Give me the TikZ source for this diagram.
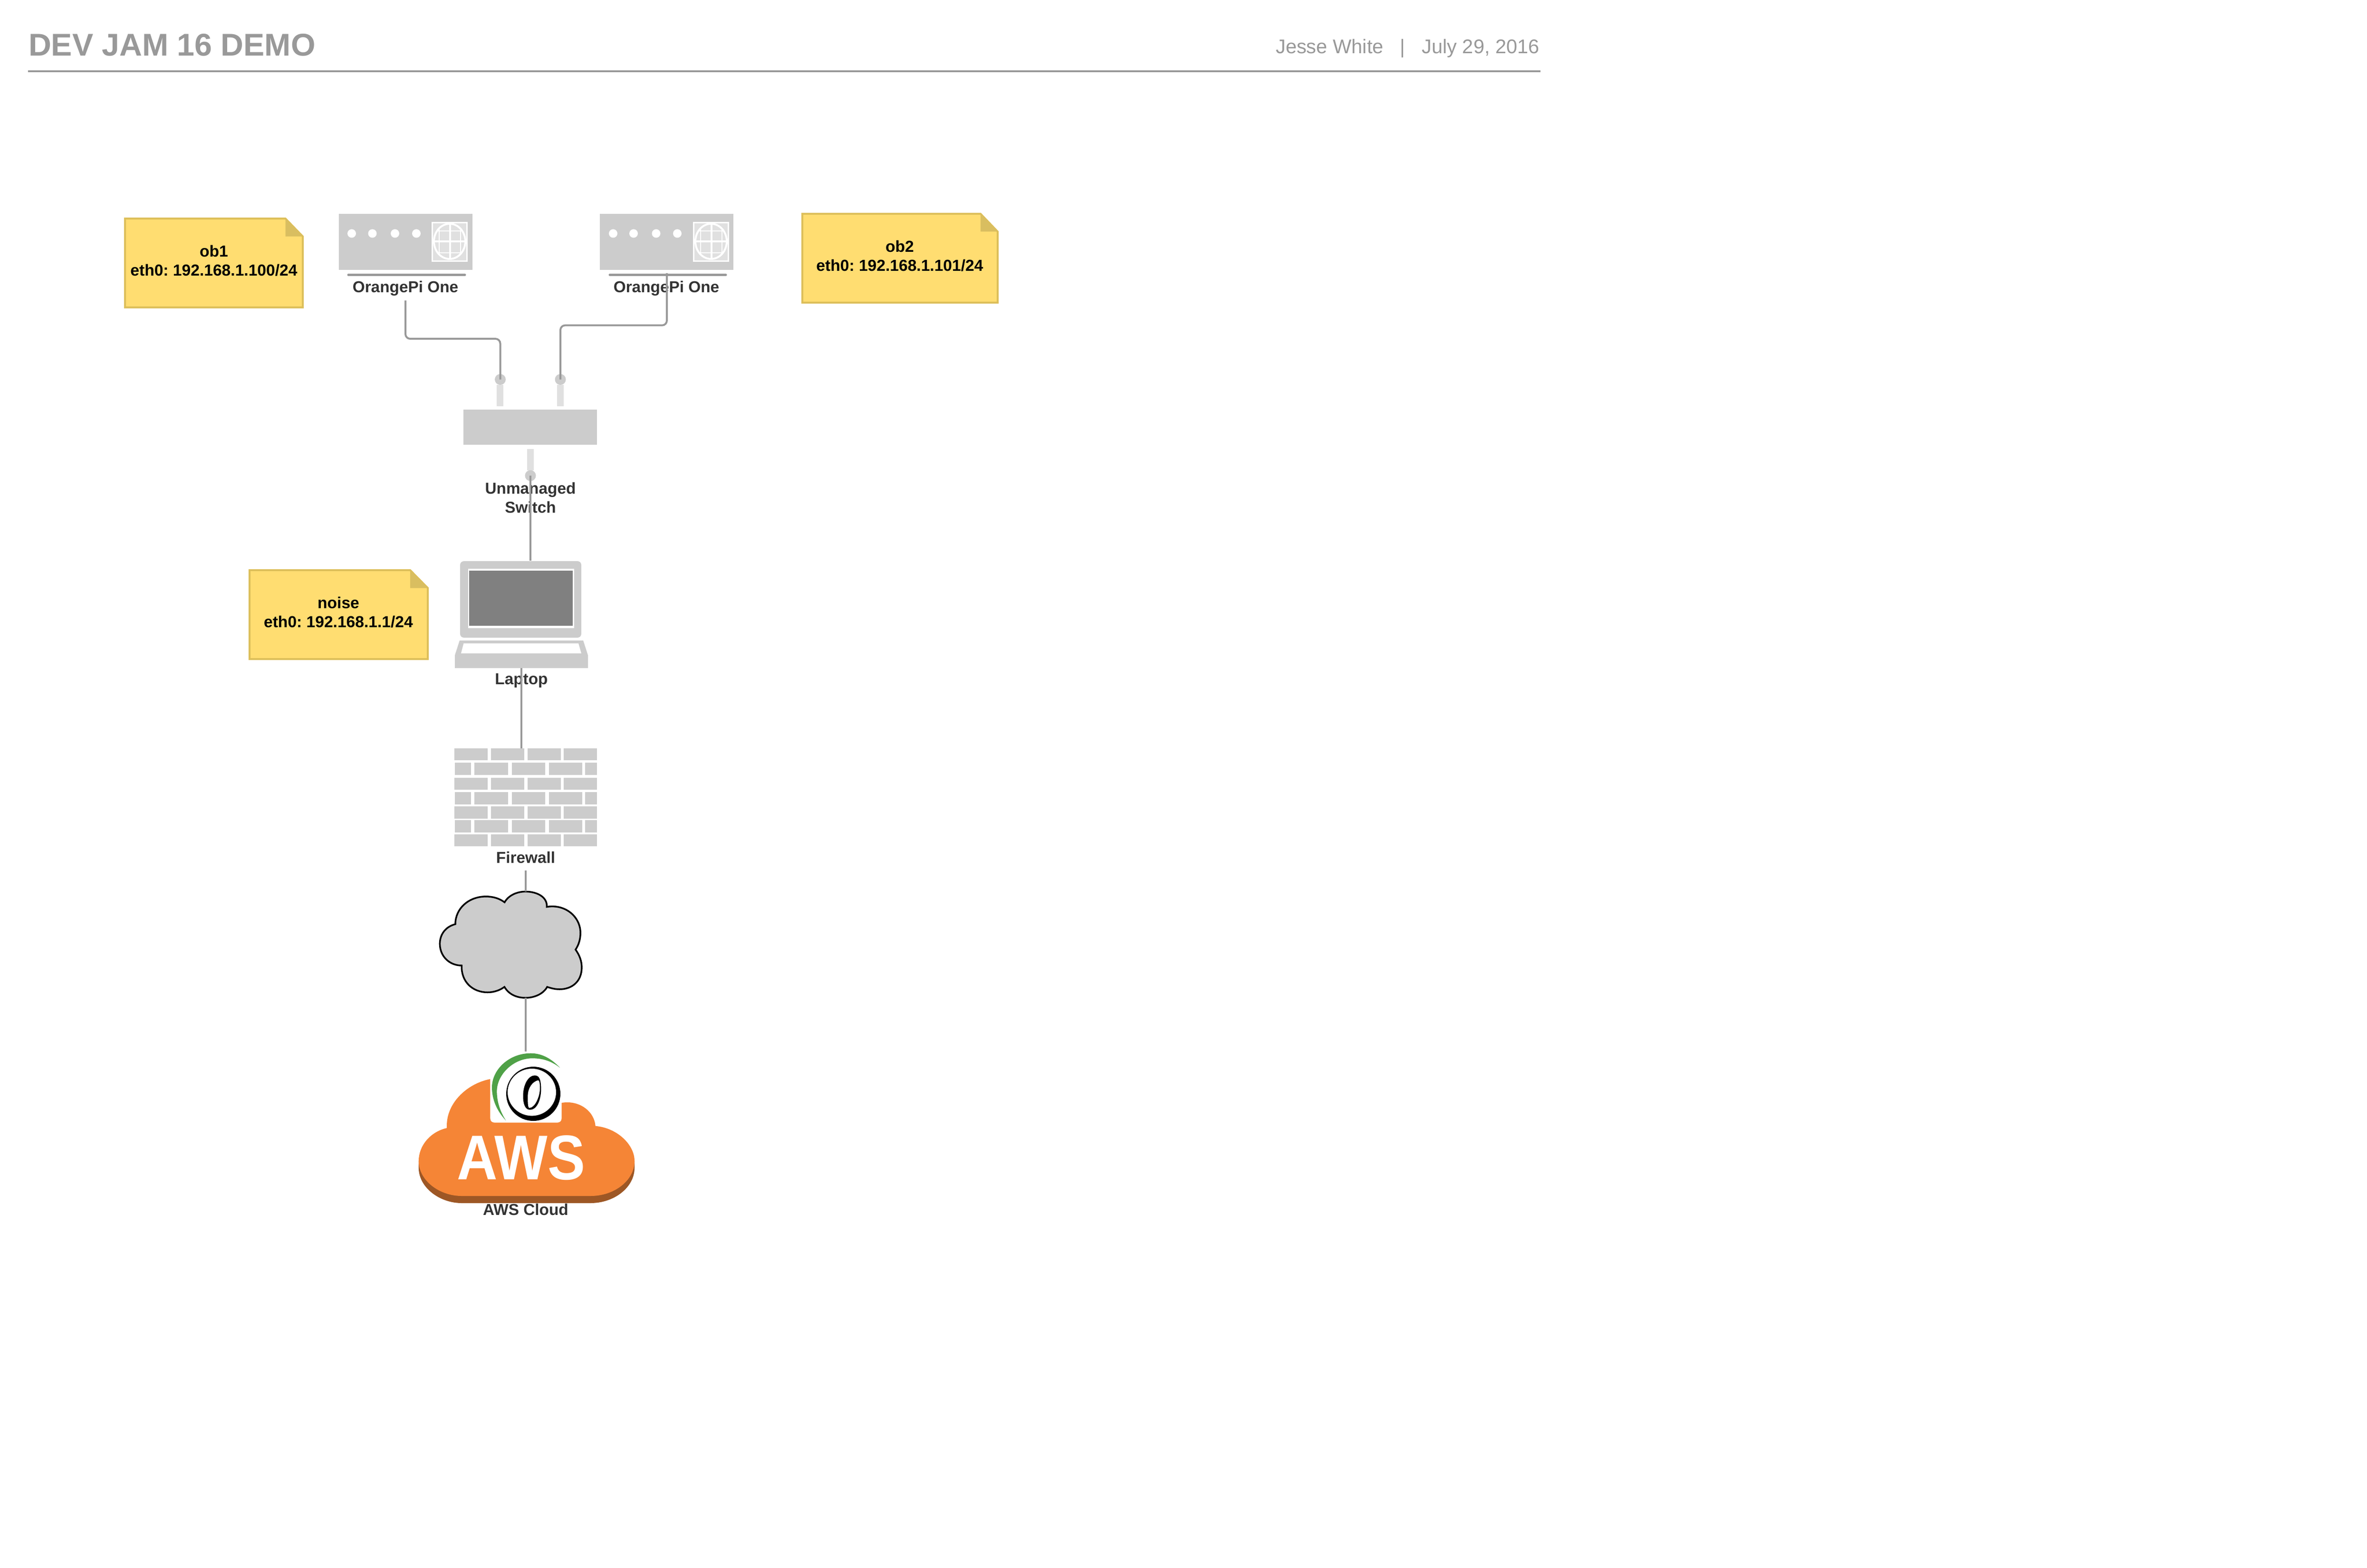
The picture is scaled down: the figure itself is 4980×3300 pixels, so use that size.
\documentclass[tikz,border=0pt]{standalone}
\usepackage{fontspec}
\setmainfont{Liberation Sans}
\newfontfamily\awsfont[FakeStretch=0.89]{Liberation Sans Bold}
\definecolor{wire}{HTML}{999999}
\definecolor{gear}{HTML}{CCCCCC}
\definecolor{stub}{HTML}{E0E0E0}
\definecolor{labeltext}{HTML}{333333}
\definecolor{notefill}{HTML}{FFDD71}
\definecolor{noteedge}{HTML}{DDBF5A}
\definecolor{notefold}{HTML}{D9BE60}
\definecolor{awsorange}{HTML}{F58536}
\definecolor{awsbrown}{HTML}{9D5725}
\definecolor{logogreen}{HTML}{4FA147}
\tikzset{
  wireline/.style={draw=wire,line width=0.8pt,rounded corners=2pt},
  gearbox/.style={rectangle,fill=gear,inner sep=0pt,outer sep=0pt},
  devlabel/.style={font=\bfseries\fontsize{6.67}{8}\selectfont,text=labeltext,anchor=base,inner sep=0pt,align=center},
  notetext/.style={font=\bfseries\fontsize{6.72}{8.2}\selectfont,text=black,anchor=base,inner sep=0pt},
  noteshape/.style={fill=notefill,draw=noteedge,line width=0.8pt,line join=miter},
  foldshape/.style={fill=notefold},
  portstub/.style={fill=stub},
  portdot/.style={fill=gear},
  brick/.style={fill=gear},
  globeline/.style={draw=white,line width=0.4pt},
  globeheavy/.style={draw=white,line width=0.8pt},
}
\newcommand{\piglobe}[2]{%
  \fill[white] (#1,#2) rectangle ++(76,84);
  \fill[stub] (#1+3,#2+3) rectangle ++(70,78);
  \begin{scope}
    \clip (#1+38,#2+41) ellipse [x radius=33,y radius=37];
    \draw[globeline] (#1+15.7,#2) -- ++(0,84) (#1+61,#2) -- ++(0,84)
      (#1,#2+19) -- ++(76,0) (#1,#2+64.7) -- ++(76,0);
    \draw[globeheavy] (#1+38.7,#2) -- ++(0,84) (#1,#2+40.7) -- ++(76,0);
  \end{scope}
  \draw[globeheavy] (#1+38,#2+41) ellipse [x radius=33,y radius=37];}
\newcommand{\pidots}[4]{%
  \foreach \dx in {#1,#2,#3,#4} \fill[white] (\dx,491.4) circle [radius=9];}
\newcommand{\brickrow}[3]{%
  \foreach \a/\b in {#3} \fill[brick] (\a,#1) rectangle (\b,#2);}
\begin{document}
\frenchspacing
\begin{tikzpicture}[x=0.2pt,y=-0.2pt]
\useasboundingbox (0,0) rectangle (4980,3300);

% header
\node[anchor=base west,inner sep=0pt,text=wire,font=\bfseries\fontsize{13.25}{16}\selectfont] (title) at (59,118) {DEV JAM 16 DEMO};
\node[anchor=base east,inner sep=0pt,text=wire,font=\fontsize{8.33}{10}\selectfont] (byline) at (3240,113) {Jesse White\ \ \ |\ \ \ July 29, 2016};
\fill[wire] (59,148) rectangle (3241,152);

% notes
\draw[noteshape] (263,460) -- (600.5,460) -- (637,497.6) -- (637,647) -- (263,647) -- cycle;
\fill[foldshape] (600.5,460) -- (600.5,497.6) -- (637,497.6) -- cycle;
\node[notetext] (ob1name) at (450,540.5) {ob1};
\node[notetext] (ob1ip) at (450,581) {eth0: 192.168.1.100/24};

\draw[noteshape] (1688,450) -- (2063,450) -- (2099,487.5) -- (2099,637) -- (1688,637) -- cycle;
\fill[foldshape] (2063,450) -- (2063,487.5) -- (2099,487.5) -- cycle;
\node[notetext] (ob2name) at (1893,530.5) {ob2};
\node[notetext] (ob2ip) at (1893,571) {eth0: 192.168.1.101/24};

\draw[noteshape] (525,1200) -- (863,1200) -- (900,1237.5) -- (900,1387) -- (525,1387) -- cycle;
\fill[foldshape] (863,1200) -- (863,1237.5) -- (900,1237.5) -- cycle;
\node[notetext] (noisename) at (712,1280) {noise};
\node[notetext] (noiseip) at (712,1320.5) {eth0: 192.168.1.1/24};

% OrangePi One (left)
\node[gearbox,minimum width=56.2pt,minimum height=23.6pt] (pia) at (853.5,509) {};
\pidots{740}{783.5}{831}{876}
\piglobe{908}{467}
\draw[wire,line width=1pt,line cap=round] (733,578.5) -- (978,578.5);
\node[devlabel] (pialabel) at (853,616) {OrangePi One};

% OrangePi One (right)
\node[gearbox,minimum width=56.2pt,minimum height=23.6pt] (pib) at (1402.5,509) {};
\pidots{1290}{1333}{1380.5}{1425}
\piglobe{1458}{467}
\draw[wire,line width=1pt,line cap=round] (1283,578.5) -- (1527,578.5);
\node[devlabel] (piblabel) at (1402,616) {OrangePi One};

% switch
\node[gearbox,minimum width=56.2pt,minimum height=14.8pt] (switch) at (1115.5,899) {};
\fill[portstub] (1045,810) rectangle (1059,855);
\fill[portstub] (1172,810) rectangle (1186,855);
\fill[portstub] (1109,945) rectangle (1123,990);
\node[devlabel] (switchlabel) at (1116,1039.5) {Unmanaged};
\node[devlabel] (switchlabelb) at (1116,1079.5) {Switch};
\coordinate (porta) at (1052.5,798.6);
\coordinate (portb) at (1179,798.6);
\coordinate (portc) at (1116,1001);
\fill[portdot] (porta) circle [radius=11.5];
\fill[portdot] (portb) circle [radius=11.5];
\fill[portdot] (portc) circle [radius=11.5];

% laptop
\fill[gear,rounded corners=1.6pt] (968,1181) rectangle (1223,1342);
\fill[white] (985,1197) rectangle (1208,1322);
\fill[black!50] (987,1201) rectangle (1205,1317);
\fill[gear] (967,1348) -- (1227,1348) -- (1237,1379) -- (1237,1406) -- (957,1406) -- (957,1379) -- cycle;
\fill[white] (975.5,1354) -- (1217,1354) -- (1223,1375) -- (970,1375) -- cycle;
\node[devlabel] (laptoplabel) at (1097,1440) {Laptop};

% firewall
\brickrow{1575}{1600}{956/1026.4,1032.5/1102.6,1109.5/1179.5,1186/1256}
\brickrow{1604.7}{1631}{957/991,998/1068.5,1076.6/1146.6,1155/1225.4,1231/1255.7}
\brickrow{1636.5}{1661.7}{956/1026.4,1032.5/1102.6,1109.5/1179.5,1186/1256}
\brickrow{1666.7}{1692.7}{957/991,998/1068.5,1076.6/1146.6,1155/1225.4,1231/1255.7}
\brickrow{1697.3}{1722.6}{956/1026.4,1032.5/1102.6,1109.5/1179.5,1186/1256}
\brickrow{1725.7}{1751.7}{957/991,998/1068.5,1076.6/1146.6,1155/1225.4,1231/1255.7}
\brickrow{1756}{1781}{956/1026.4,1032.5/1102.6,1109.5/1179.5,1186/1256}
\node[devlabel] (firewalllabel) at (1106,1816) {Firewall};

% internet cloud
\draw[fill=gear,draw=black,line width=0.7pt,line join=miter]
  (1061.6,1899) .. controls (1070,1884) and (1088,1876.4) .. (1105.6,1876.4)
  .. controls (1130,1876.4) and (1152,1888) .. (1150.4,1908.6)
  .. controls (1190,1902) and (1221.2,1930) .. (1221.2,1963.3)
  .. controls (1221.2,1976) and (1218,1988) .. (1210.9,1998.5)
  .. controls (1219,2010) and (1223.9,2022) .. (1223.9,2036)
  .. controls (1223.9,2066) and (1203,2082) .. (1177.2,2082)
  .. controls (1168,2082) and (1160,2080) .. (1151.2,2077)
  .. controls (1143,2092) and (1124,2100) .. (1105.6,2100)
  .. controls (1086,2100) and (1070,2092) .. (1061.3,2077)
  .. controls (1052,2084) and (1039,2088.5) .. (1026,2088.5)
  .. controls (994,2088.5) and (970,2066) .. (971.3,2032)
  .. controls (945,2032) and (925.4,2012) .. (925.4,1986.3)
  .. controls (925.4,1966) and (938,1950) .. (958,1945)
  .. controls (958,1912) and (986,1886.8) .. (1022.2,1886.8)
  .. controls (1038,1886.8) and (1051,1891) .. (1061.6,1899) -- cycle;

% AWS cloud
\fill[awsbrown] (880.9,2443.3) -- (880.9,2458)
  .. controls (880.9,2499) and (925,2532) .. (971,2532) -- (1243,2532)
  .. controls (1292,2532) and (1335,2499) .. (1335,2458) -- (1335,2443.3) -- cycle;
\fill[awsorange] (1031.4,2271)
  .. controls (982,2280.5) and (937,2323) .. (940.2,2374)
  .. controls (905,2382) and (880.9,2411.6) .. (880.9,2443.3)
  .. controls (880.9,2484.8) and (925,2517) .. (971,2517) -- (1243,2517)
  .. controls (1292,2517) and (1335,2484.8) .. (1335,2443.3)
  .. controls (1335,2408.8) and (1298,2373.6) .. (1252.8,2369.8)
  .. controls (1250,2339) and (1222,2320) .. (1194,2320)
  .. controls (1189,2320) and (1185,2320.4) .. (1181.6,2321)
  -- (1181.6,2353.6) .. controls (1181.6,2359.4) and (1178,2362.7) .. (1172,2362.7)
  -- (1041,2362.7) .. controls (1035,2362.7) and (1031.4,2359.4) .. (1031.4,2353.6) -- cycle;
\node[anchor=base,inner sep=0pt,text=white,font=\awsfont\fontsize{26.6}{28}\selectfont] (awstext) at (1096.5,2482.7) {AWS};
\node[devlabel] (awslabel) at (1106,2557.3) {AWS Cloud};

% logo
\fill[logogreen] (1178,2247)
  .. controls (1160,2228) and (1140,2216.7) .. (1116.7,2216.7)
  .. controls (1070,2216.7) and (1035,2252) .. (1035,2288.3)
  .. controls (1035,2313.8) and (1045,2337.5) .. (1064.4,2358.3)
  .. controls (1052,2339) and (1045.4,2318.5) .. (1045.4,2296.7)
  .. controls (1045.4,2261.5) and (1080,2227.3) .. (1120,2227.3)
  .. controls (1142,2227.3) and (1160,2233) .. (1178,2247) -- cycle;
\fill[black,even odd rule]
  (1122,2302) ellipse [x radius=57,y radius=57]
  (1119,2298.7) ellipse [x radius=51,y radius=49.7];
\fill[black,even odd rule]
  (1125.4,2263.4) .. controls (1134,2263.4) and (1138.4,2271) .. (1138.4,2293)
  .. controls (1138.4,2309) and (1132,2335.6) .. (1115,2335.6)
  .. controls (1105,2335.6) and (1100.5,2323.3) .. (1100.5,2306.6)
  .. controls (1100.5,2285.3) and (1110,2263.4) .. (1125.4,2263.4) -- cycle
  (1132.5,2273.4) .. controls (1120,2275.8) and (1110.4,2290) .. (1110.4,2306.6)
  .. controls (1110.4,2318.5) and (1110,2331.8) .. (1113.9,2331.8)
  .. controls (1125,2331.8) and (1136,2309) .. (1136,2290)
  .. controls (1136,2280.5) and (1135,2273.9) .. (1132.5,2273.4) -- cycle;

% connectors
\coordinate (piaout) at (853,632.5);
\coordinate (piaturn) at (853,713);
\coordinate (piaturnb) at (1052.5,713);
\coordinate (pibout) at (1403,575);
\coordinate (pibturn) at (1403,684.7);
\coordinate (pibturnb) at (1179,684.7);
\coordinate (laptoptop) at (1116,1180);
\coordinate (laptopbase) at (1097,1406);
\coordinate (firewalltop) at (1097,1575);
\coordinate (firewallout) at (1106,1832);
\coordinate (cloudtop) at (1106,1876);
\coordinate (cloudbottom) at (1106,2100);
\coordinate (awstop) at (1106,2212.7);
\draw[wireline] (piaout) -- (piaturn) -- (piaturnb) -- (porta);
\draw[wireline] (pibout) -- (pibturn) -- (pibturnb) -- (portb);
\draw[wireline] (portc) -- (laptoptop);
\draw[wireline] (laptopbase) -- (firewalltop);
\draw[wireline] (firewallout) -- (cloudtop);
\draw[wireline] (cloudbottom) -- (awstop);
\end{tikzpicture}
\end{document}
